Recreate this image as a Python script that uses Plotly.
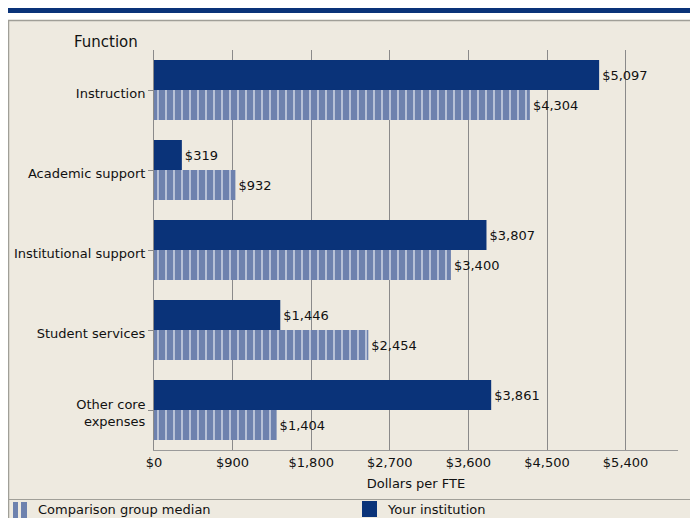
import plotly.graph_objects as go

categories = ["Instruction", "Academic support", "Institutional support", "Student services", "Other core<br>expenses"]
your_institution = [5097, 319, 3807, 1446, 3861]
comparison_median = [4304, 932, 3400, 2454, 1404]
tick_vals = [0, 900, 1800, 2700, 3600, 4500, 5400]
tick_text = ["$0", "$900", "$1,800", "$2,700", "$3,600", "$4,500", "$5,400"]
series_names = ["Comparison group median", "Your institution"]

DARK = "#0A3379"
LIGHT = "#6E82AE"
PANEL = "#EEEAE0"
FONT = "DejaVu Sans"

W, H = 698, 518
L, R, T, B = 146, 28, 42, 76
PW, PH = W - L - R, H - T - B

def px(x):
    return (x - L) / PW

def py(y):
    return (H - B - y) / PH

fig = go.Figure()
fig.add_trace(go.Bar(
    y=categories, x=your_institution, orientation="h", name=series_names[1],
    marker=dict(color=DARK, line=dict(width=0)),
    text=[f"${v:,}" for v in your_institution], textposition="outside",
    textfont=dict(family=FONT, size=13, color="#111"), cliponaxis=False,
    showlegend=False,
))
fig.add_trace(go.Bar(
    y=categories, x=comparison_median, orientation="h", name=series_names[0],
    marker=dict(color=LIGHT, line=dict(width=0),
                pattern=dict(shape="|", fgcolor="white", size=8, solidity=0.25, fillmode="overlay")),
    text=[f"${v:,}" for v in comparison_median], textposition="outside",
    textfont=dict(family=FONT, size=13, color="#111"), cliponaxis=False,
    showlegend=False,
))

shapes = [
    dict(type="rect", xref="paper", yref="paper", x0=px(0), x1=px(700), y0=py(0), y1=py(5),
         fillcolor=DARK, line=dict(width=0), layer="below"),
    dict(type="rect", xref="paper", yref="paper", x0=px(0.5), x1=px(705), y0=py(12.5), y1=py(525),
         fillcolor=PANEL, line=dict(color="#A09F98", width=1.5), layer="below"),
    dict(type="line", xref="paper", yref="paper", x0=px(0.5), x1=px(700), y0=py(491.5), y1=py(491.5),
         line=dict(color="#A09F98", width=1), layer="below"),
    # legend swatches
    dict(type="rect", xref="paper", yref="paper", x0=px(5), x1=px(10), y0=py(494), y1=py(510),
         fillcolor=LIGHT, line=dict(width=0)),
    dict(type="rect", xref="paper", yref="paper", x0=px(13), x1=px(19), y0=py(494), y1=py(510),
         fillcolor=LIGHT, line=dict(width=0)),
    dict(type="rect", xref="paper", yref="paper", x0=px(354), x1=px(369), y0=py(493), y1=py(509),
         fillcolor=DARK, line=dict(width=0)),
]

annotations = [
    dict(text="Function", xref="paper", yref="paper", x=px(64), y=py(34),
         xanchor="left", yanchor="middle", showarrow=False,
         font=dict(family=FONT, size=15, color="#111")),
    dict(text=series_names[0], xref="paper", yref="paper", x=px(28), y=py(502),
         xanchor="left", yanchor="middle", showarrow=False,
         font=dict(family=FONT, size=13, color="#111")),
    dict(text=series_names[1], xref="paper", yref="paper", x=px(377), y=py(502),
         xanchor="left", yanchor="middle", showarrow=False,
         font=dict(family=FONT, size=13, color="#111")),
]

fig.update_layout(
    width=W, height=H,
    margin=dict(l=L, r=R, t=T, b=B, pad=0, autoexpand=False),
    paper_bgcolor="white", plot_bgcolor=PANEL,
    barmode="group", bargap=0.25, bargroupgap=0,
    font=dict(family=FONT, size=13, color="#111"),
    shapes=shapes,
    showlegend=False,
    annotations=annotations,
    xaxis=dict(range=[0, 6000], tickvals=tick_vals, ticktext=tick_text,
               showgrid=True, gridcolor="#8A8A8A", gridwidth=1, zeroline=False,
               showline=True, linecolor="#9A9A9A", linewidth=1, ticks="",
               tickfont=dict(family=FONT, size=13, color="#111"),
               title=dict(text="Dollars per FTE", standoff=10, font=dict(family=FONT, size=13, color="#111"))),
    yaxis=dict(autorange="reversed", showgrid=False, showline=True, linecolor="#8A8A8A",
               ticks="outside", ticklen=5, tickcolor="#8A8A8A", ticklabelshift=-3,
               tickfont=dict(family=FONT, size=13, color="#111")),
)

fig.write_html("out.html")
